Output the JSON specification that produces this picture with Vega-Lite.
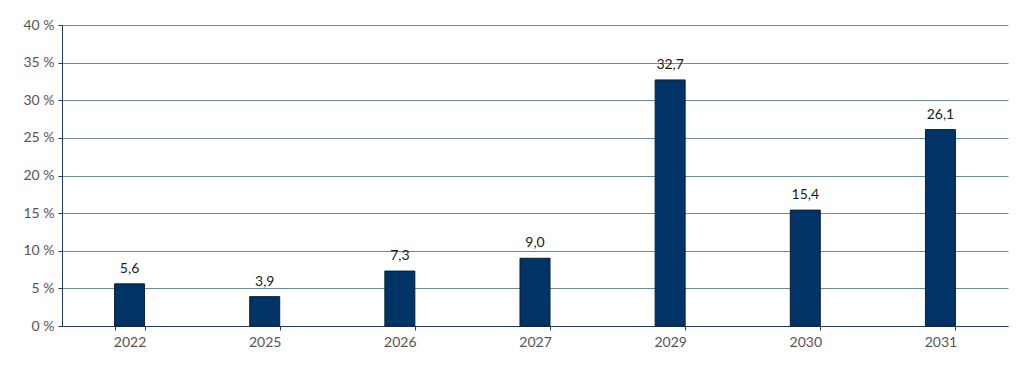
{
  "$schema": "https://vega.github.io/schema/vega-lite/v6.json",
  "autosize": "none",
  "width": 946,
  "height": 301,
  "padding": {"left": 62, "top": 25, "right": 21, "bottom": 42},
  "background": "white",
  "config": {
    "view": {"stroke": null},
    "font": "Lato",
    "locale": {"number": {"decimal": ",", "thousands": " ", "grouping": [3], "currency": ["", " €"]}}
  },
  "data": {
    "values": [
      {"year": "2022", "value": 5.6},
      {"year": "2025", "value": 3.9},
      {"year": "2026", "value": 7.3},
      {"year": "2027", "value": 9.0},
      {"year": "2029", "value": 32.7},
      {"year": "2030", "value": 15.4},
      {"year": "2031", "value": 26.1}
    ]
  },
  "encoding": {
    "x": {
      "field": "year",
      "type": "ordinal",
      "sort": null,
      "scale": {"paddingInner": 0.778, "paddingOuter": 0.389},
      "axis": {
        "title": null,
        "labelAngle": 0,
        "tickBand": "extent",
        "domainColor": "#1f3a5f",
        "tickColor": "#1f3a5f",
        "tickSize": 4,
        "labelColor": "#555555",
        "labelFontSize": 14,
        "labelPadding": 5
      }
    },
    "y": {
      "field": "value",
      "type": "quantitative",
      "scale": {"domain": [0, 40]},
      "axis": {
        "title": null,
        "values": [0, 5, 10, 15, 20, 25, 30, 35, 40],
        "labelExpr": "datum.value + ' %'",
        "gridColor": "#6d8aa3",
        "gridWidth": 1,
        "domainColor": "#1f3a5f",
        "tickColor": "#1f3a5f",
        "tickSize": 4,
        "labelColor": "#555555",
        "labelFontSize": 14,
        "labelPadding": 4
      }
    }
  },
  "layer": [
    {
      "mark": {"type": "bar", "color": "#003366", "stroke": "#0d2030", "strokeWidth": 1}
    },
    {
      "mark": {"type": "text", "dy": -15, "fontSize": 14, "color": "#1a1a1a"},
      "encoding": {
        "text": {"field": "value", "type": "quantitative", "format": ".1f"}
      }
    }
  ]
}
